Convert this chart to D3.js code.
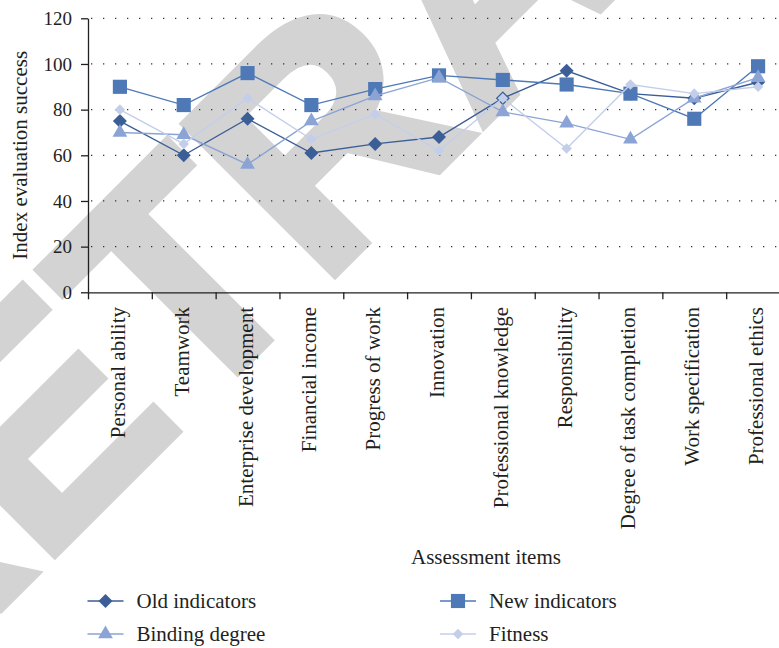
<!DOCTYPE html>
<html>
<head>
<meta charset="utf-8">
<script src="https://cdn.jsdelivr.net/npm/d3@7"></script>
<style>
  body { margin: 0; background: #ffffff; }
  svg { display: block; }
</style>
</head>
<body>
<svg id="chart" width="779" height="648"></svg>
<script>
// Assessment items along the x axis
const categories = [
  "Personal ability", "Teamwork", "Enterprise development", "Financial income",
  "Progress of work", "Innovation", "Professional knowledge", "Responsibility",
  "Degree of task completion", "Work specification", "Professional ethics"
];

// Index evaluation success per item
const oldIndicators = [75, 60, 76, 61, 65, 68, 85, 97, 87, 85, 92];
const newIndicators = [90, 82, 96, 82, 89, 95, 93, 91, 87, 76, 99];
const bindingDegree = [70, 69, 56, 75, 86, 94, 79, 74, 67, 85, 94];
const fitness       = [80, 65, 85, 67, 78, 62, 85, 63, 91, 87, 90];

const seriesNames = ["Old indicators", "New indicators", "Binding degree", "Fitness"];
const yTicks = [0, 20, 40, 60, 80, 100, 120];

const ink = "#231f20";
const serif = "'Liberation Serif', 'Times New Roman', serif";

const series = [
  { name: seriesNames[0], values: oldIndicators, color: "#3b5e97", symbol: "diamond", size: 98 },
  { name: seriesNames[1], values: newIndicators, color: "#4f79b6", symbol: "square",  size: 200 },
  { name: seriesNames[2], values: bindingDegree, color: "#8ba4d5", symbol: "triangle", size: 94 },
  { name: seriesNames[3], values: fitness,       color: "#c3cfea", symbol: "diamond", size: 56 }
];

const svg = d3.select("#chart");

// Watermark stamp behind the chart
svg.append("text")
  .attr("transform", "rotate(-45)")
  .attr("x", -598)
  .attr("y", 431)
  .attr("font-family", "'Liberation Sans', Arial, sans-serif")
  .attr("font-weight", "bold")
  .attr("font-size", 310)
  .attr("fill", "#d3d3d3")
  .attr("stroke", "#d3d3d3")
  .attr("stroke-width", 8)
  .attr("stroke-linejoin", "miter")
  .text("RETRACTED");

const plot = { left: 88, right: 790, top: 18.3, bottom: 292.3 };

const x = d3.scaleBand().domain(categories).range([plot.left, plot.right]);
const xEdge = d3.scaleLinear().domain([0, categories.length]).range([plot.left, plot.right]);
const y = d3.scaleLinear().domain([0, 120]).range([plot.bottom, plot.top]);

// Dotted horizontal grid
svg.append("g")
  .selectAll("line")
  .data(yTicks.filter(t => t > 0))
  .join("line")
  .attr("x1", plot.left + 3)
  .attr("x2", plot.right)
  .attr("y1", d => y(d))
  .attr("y2", d => y(d))
  .attr("stroke", "#333")
  .attr("stroke-width", 1.3)
  .attr("stroke-dasharray", "1.3 10.7");

// Y axis
const yAxis = svg.append("g")
  .attr("transform", `translate(${plot.left},0)`)
  .call(d3.axisLeft(y).tickValues(yTicks).tickSize(7).tickPadding(9).tickSizeOuter(0));
yAxis.select(".domain").attr("stroke", ink).attr("stroke-width", 1.3);
yAxis.selectAll(".tick line").attr("stroke", ink).attr("stroke-width", 1.3);
yAxis.selectAll(".tick text")
  .attr("font-family", serif).attr("font-size", 19).attr("fill", ink);

// X axis: ticks on the category boundaries
const xAxis = svg.append("g")
  .attr("transform", `translate(0,${plot.bottom})`)
  .call(d3.axisBottom(xEdge).tickValues(d3.range(categories.length + 1))
    .tickSize(7).tickSizeOuter(0).tickFormat(""));
xAxis.select(".domain").attr("stroke", ink).attr("stroke-width", 1.3);
xAxis.selectAll(".tick line").attr("stroke", ink).attr("stroke-width", 1.3);

// Category labels, rotated
svg.append("g")
  .selectAll("text")
  .data(categories)
  .join("text")
  .attr("transform", d => `translate(${x(d) + x.bandwidth() / 2 + 5},307) rotate(-90)`)
  .attr("text-anchor", "end")
  .attr("font-family", serif)
  .attr("font-size", 21)
  .attr("fill", ink)
  .text(d => d);

// Axis titles
svg.append("text")
  .attr("transform", `translate(27,${(plot.top + plot.bottom) / 2}) rotate(-90)`)
  .attr("text-anchor", "middle")
  .attr("font-family", serif).attr("font-size", 21).attr("fill", ink)
  .text("Index evaluation success");

svg.append("text")
  .attr("x", 486).attr("y", 564)
  .attr("text-anchor", "middle")
  .attr("font-family", serif).attr("font-size", 21).attr("fill", ink)
  .text("Assessment items");

// Marker shapes
function symbolPath(kind, size) {
  if (kind === "square") return d3.symbol(d3.symbolSquare, size)();
  if (kind === "triangle") return d3.symbol(d3.symbolTriangle, size)();
  return d3.symbol(d3.symbolSquare, size)(); // diamond = square turned 45°
}
function symbolRotate(kind) { return kind === "diamond" ? " rotate(45)" : ""; }

const line = d3.line()
  .x((d, i) => x(categories[i]) + x.bandwidth() / 2)
  .y(d => y(d));

const layers = svg.append("g");
series.forEach(s => {
  const g = layers.append("g");
  g.append("path")
    .attr("d", line(s.values))
    .attr("fill", "none")
    .attr("stroke", s.color)
    .attr("stroke-width", 1.4);
  g.selectAll("path.mark")
    .data(s.values)
    .join("path")
    .attr("class", "mark")
    .attr("d", symbolPath(s.symbol, s.size))
    .attr("transform", (d, i) =>
      `translate(${x(categories[i]) + x.bandwidth() / 2},${y(d)})${symbolRotate(s.symbol)}`)
    .attr("fill", s.color);
});

// Legend, two columns
const legendPos = [
  { cx: 105.5, cy: 601 }, { cx: 458, cy: 601 },
  { cx: 105.5, cy: 634 }, { cx: 458, cy: 634 }
];
const legend = svg.append("g");
series.forEach((s, i) => {
  const p = legendPos[i];
  const g = legend.append("g");
  g.append("line")
    .attr("x1", p.cx - 18).attr("x2", p.cx + 18)
    .attr("y1", p.cy).attr("y2", p.cy)
    .attr("stroke", s.color).attr("stroke-width", 1.6);
  g.append("path")
    .attr("d", symbolPath(s.symbol, s.size))
    .attr("transform", `translate(${p.cx},${p.cy})${symbolRotate(s.symbol)}`)
    .attr("fill", s.color);
  g.append("text")
    .attr("x", p.cx + 31).attr("y", p.cy + 6.5)
    .attr("font-family", serif).attr("font-size", 21).attr("fill", ink)
    .text(s.name);
});
</script>
</body>
</html>
